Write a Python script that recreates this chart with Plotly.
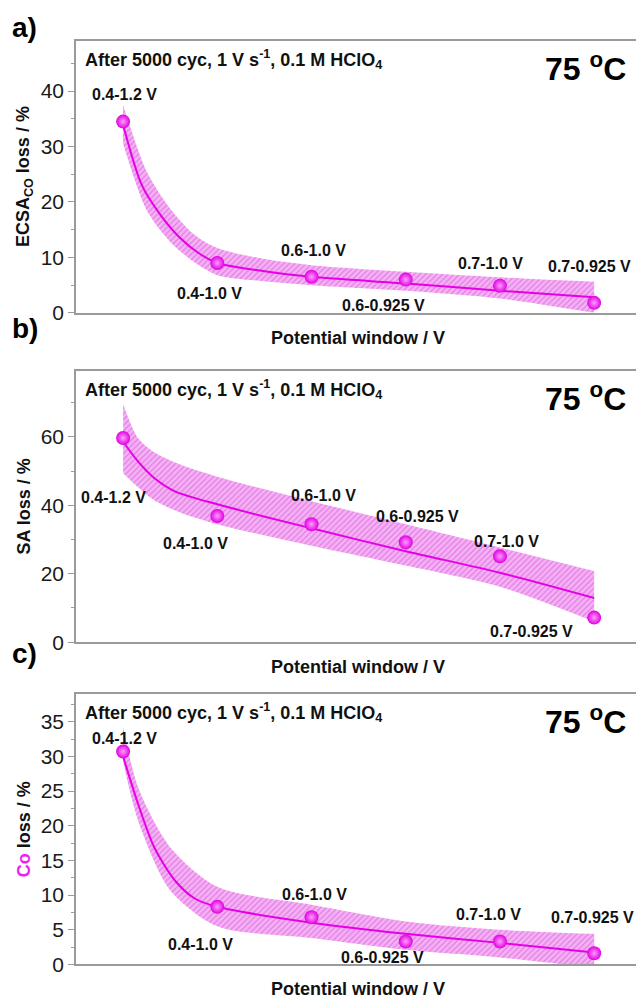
import plotly.graph_objects as go

W, H = 636, 1008
FONT = "Liberation Sans, Arial, sans-serif"

# ---------------- data ----------------
windows = ["0.4-1.2 V", "0.4-1.0 V", "0.6-1.0 V", "0.6-0.925 V", "0.7-1.0 V", "0.7-0.925 V"]
x_idx = [1, 2, 3, 4, 5, 6]

ecsa_loss = [34.5, 9.0, 6.5, 6.0, 4.9, 1.8]
sa_loss = [59.7, 36.9, 34.5, 29.2, 25.1, 7.2]
co_loss = [30.7, 8.3, 6.8, 3.3, 3.3, 1.6]

# fitted curves and confidence bands
ecsa_fit_x = [1, 1.2, 1.4, 1.6, 1.8, 2, 2.5, 3, 4, 5, 6]
ecsa_fit = [33.9, 23.0, 17.6, 13.6, 10.8, 9.0, 7.5, 6.5, 5.3, 4.0, 2.8]
ecsa_band_x = [1, 1.25, 1.5, 1.75, 2, 2.5, 3, 4, 5, 6]
ecsa_upper = [37.5, 25.5, 18.8, 14.2, 11.7, 9.7, 8.6, 7.4, 6.4, 5.6]
ecsa_lower = [30.5, 18.5, 12.8, 9.2, 6.8, 5.7, 5.0, 4.0, 2.6, 0.0]

sa_fit_x = [1, 1.16, 1.33, 1.55, 2, 3, 4, 5, 6]
sa_fit = [58.6, 52.8, 48.0, 44.1, 40.3, 33.3, 26.6, 20.3, 12.9]
sa_band_x = [1, 1.15, 1.33, 1.6, 2, 3, 4, 5, 6]
sa_upper = [69.6, 60.0, 55.5, 52.0, 48.4, 41.2, 34.5, 27.7, 20.8]
sa_lower = [49.4, 45.5, 41.5, 38.0, 34.5, 28.2, 22.4, 16.2, 6.0]

co_fit_x = [1, 1.16, 1.33, 1.55, 1.76, 2, 3, 4, 5, 6]
co_fit = [30.0, 23.1, 16.9, 12.1, 9.5, 8.3, 6.0, 4.4, 3.1, 1.7]
co_band_x = [1, 1.16, 1.5, 2, 3, 4, 5, 6]
co_upper = [34.3, 25.5, 16.9, 11.2, 8.6, 6.2, 5.0, 4.4]
co_lower = [29.3, 20.7, 10.7, 5.5, 3.8, 2.1, 1.0, -0.5]

panel_letters = ["a)", "b)", "c)"]
y_titles = ["ECSA<sub>CO</sub> loss / %", "SA loss / %",
            "<span style='color:#f01ef0'>Co</span> loss / %"]
cond_text = "After 5000 cyc, 1 V s<sup>-1</sup>, 0.1 M HClO<sub>4</sub>"
temp_text = "75 <sup>o</sup>C"
x_title = "Potential window / V"

# ---------------- styling / layout ----------------
MAG = "#e600e6"
AX = "#9a9a9a"
X_LEFT = 76
plot_boxes = [(41.7, 316.3), (375.0, 649.3), (701.7, 975.0)]  # top, bottom px
y_ranges = [49.0, 79.3, 39.0]
y_dticks = [(10, 5), (20, 10), (5, 2.5)]
letter_y = [27.5, 332, 661]

# label offsets in px (dx, dy down-positive)
label_offsets = [
    [(1, -27), (-8, 31), (2, -26), (-22, 26), (-9, -22), (-5, -36)],
    [(-10, 60), (-22, 28), (12, -29), (12, -26), (7, -15), (-63, 14)],
    [(1, -13), (-17, 38), (3, -23), (-23, 16), (-11, -27), (-2, -36)],
]

panels = [
    (ecsa_loss, ecsa_fit_x, ecsa_fit, ecsa_band_x, ecsa_upper, ecsa_lower),
    (sa_loss, sa_fit_x, sa_fit, sa_band_x, sa_upper, sa_lower),
    (co_loss, co_fit_x, co_fit, co_band_x, co_upper, co_lower),
]


def px(xp, yp):
    return xp / W, 1 - yp / H


fig = go.Figure()
annotations = []
layout_axes = {}

for k, (vals, fx, fy, bx, bu, bl) in enumerate(panels):
    sfx = "" if k == 0 else str(k + 1)
    xa, ya = "x" + sfx, "y" + sfx
    fig.add_trace(go.Scatter(x=bx, y=bl, xaxis=xa, yaxis=ya, mode="lines",
                             line=dict(width=0, shape="spline", smoothing=0.8),
                             hoverinfo="skip", showlegend=False))
    fig.add_trace(go.Scatter(x=bx, y=bu, xaxis=xa, yaxis=ya, mode="lines",
                             line=dict(width=0, shape="spline", smoothing=0.8),
                             fill="tonexty", fillcolor="rgba(240,160,240,0.75)",
                             fillpattern=dict(shape="/", fgcolor="#e37ce3", bgcolor="#f5b2f5",
                                              size=4, solidity=0.3, fillmode="replace"),
                             hoverinfo="skip", showlegend=False))
    fig.add_trace(go.Scatter(x=fx, y=fy, xaxis=xa, yaxis=ya, mode="lines",
                             line=dict(color=MAG, width=2, shape="spline", smoothing=0.8),
                             hoverinfo="skip", showlegend=False))
    fig.add_trace(go.Scatter(x=x_idx, y=vals, xaxis=xa, yaxis=ya, mode="markers",
                             marker=dict(size=14, color="#e000e0",
                                         gradient=dict(type="radial", color="#ff9cff"),
                                         line=dict(width=0)),
                             text=windows, showlegend=False))

    top, bot = plot_boxes[k]
    layout_axes["xaxis" + sfx] = dict(
        domain=[X_LEFT / W, 1.0], range=[0.5, 6.444], anchor=ya,
        showline=True, linecolor=AX, linewidth=1.5, mirror=True,
        showticklabels=False, ticks="", showgrid=False, zeroline=False)
    major, minor = y_dticks[k]
    layout_axes["yaxis" + sfx] = dict(
        domain=[1 - bot / H, 1 - top / H], range=[0, y_ranges[k]], anchor=xa,
        showline=True, linecolor=AX, linewidth=1.5, mirror=False,
        ticks="outside", ticklen=6, tickwidth=1.2, tickcolor=AX, dtick=major, tick0=0,
        minor=dict(dtick=minor, ticks="outside", ticklen=3, tickcolor=AX, tickwidth=1),
        tickfont=dict(family=FONT, size=21, color="#1a1a1a"),
        showgrid=False, zeroline=False)

    for i, lab in enumerate(windows):
        dx, dy = label_offsets[k][i]
        annotations.append(dict(x=x_idx[i], y=vals[i], xref=xa, yref=ya, text=lab,
                                showarrow=False, xshift=dx, yshift=-dy,
                                xanchor="center", yanchor="middle",
                                font=dict(family=FONT, size=16, color="#111", weight="bold")))
    xx, yy = px(10, letter_y[k])
    annotations.append(dict(x=xx, y=yy, xref="paper", yref="paper", text=panel_letters[k],
                            showarrow=False, xanchor="left", yanchor="middle",
                            font=dict(family=FONT, size=28, color="#000", weight="bold")))
    xx, yy = px(83, top + 18.5)
    annotations.append(dict(x=xx, y=yy, xref="paper", yref="paper", text=cond_text,
                            showarrow=False, xanchor="left", yanchor="middle",
                            font=dict(family=FONT, size=18, color="#111", weight="bold")))
    xx, yy = px(628, top + 26)
    annotations.append(dict(x=xx, y=yy, xref="paper", yref="paper", text=temp_text,
                            showarrow=False, xanchor="right", yanchor="middle",
                            font=dict(family=FONT, size=32, color="#000", weight="bold")))
    xx, yy = px(358, bot + 25)
    annotations.append(dict(x=xx, y=yy, xref="paper", yref="paper", text=x_title,
                            showarrow=False, xanchor="center", yanchor="middle",
                            font=dict(family=FONT, size=18, color="#111", weight="bold")))
    xx, yy = px(24, (top + bot) / 2)
    annotations.append(dict(x=xx, y=yy, xref="paper", yref="paper", text=y_titles[k],
                            showarrow=False, textangle=-90, xanchor="center", yanchor="middle",
                            font=dict(family=FONT, size=18, color="#111", weight="bold")))

fig.update_layout(
    width=W, height=H, margin=dict(l=0, r=0, t=0, b=0),
    paper_bgcolor="white", plot_bgcolor="white",
    showlegend=False, annotations=annotations, **layout_axes)

fig.write_html("out.html", config={"displayModeBar": False},
               post_script="document.body.style.margin='0';document.body.style.overflow='hidden';")
